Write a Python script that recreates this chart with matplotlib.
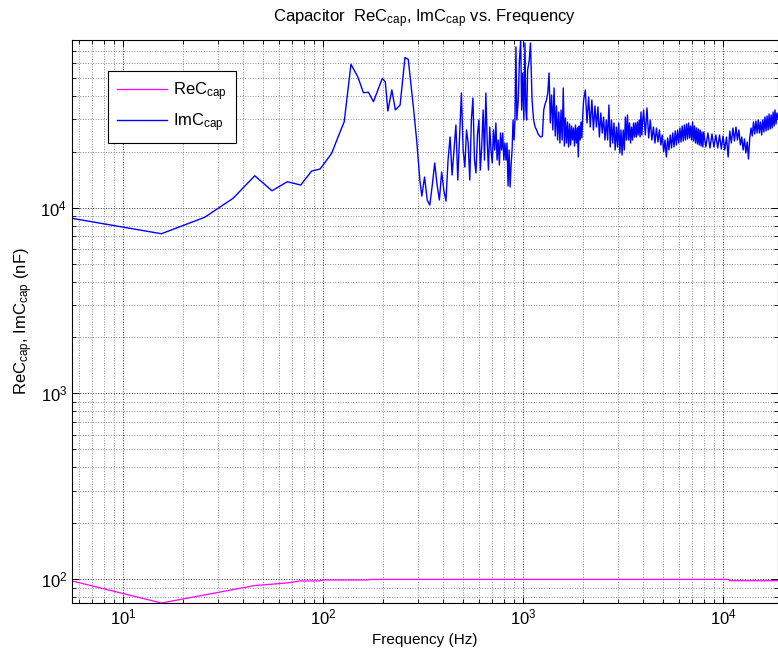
import matplotlib
matplotlib.use("Agg")
import matplotlib.pyplot as plt
from matplotlib.ticker import LogLocator, LogFormatterMathtext, NullFormatter

plt.rcParams['font.family'] = ['Liberation Sans', 'DejaVu Sans']
plt.rcParams['mathtext.fontset'] = 'custom'
plt.rcParams['mathtext.rm'] = 'Liberation Sans'
plt.rcParams['mathtext.it'] = 'Liberation Sans:italic'
plt.rcParams['mathtext.bf'] = 'Liberation Sans:bold'

# Real part of the capacitance (nF)
rec_freq = [5.56, 15.56, 45.6, 66, 77, 96, 100, 165, 175, 10700, 10800, 18840]
rec_vals = [97.9, 74.5, 92.5, 95.5, 97.9, 97.9, 99.1, 99.1, 99.8, 99.8, 98.2, 98.2]

# Imaginary part of the capacitance (nF), low frequencies
imc_freq_low = [5.56, 15.56, 25.6, 35.5, 45.6, 55.6, 66.3, 77.4, 87.7, 96.6,
                101.6, 110.5, 119.1, 127.7, 138.0, 149.2, 159.3, 168.8, 178.8, 198,
                205, 211, 221, 230, 243, 257, 267]
imc_vals_low = [8750, 7230, 8860, 11210, 14830, 12310, 13770, 13220, 15720, 16120,
                17300, 19580, 24060, 28970, 59020, 50600, 41500, 41700, 37120, 49610,
                47380, 33070, 42920, 33500, 35640, 64200, 62640]

# Imaginary part, 280 Hz - 1.1 kHz (resonance ringing)
imc_freq_mid = [283, 294, 305, 312, 322, 332, 342, 352, 362, 372,
                382, 392, 402, 412, 422, 432, 442, 452, 462, 472,
                482, 492, 502, 512, 522, 532, 542, 552, 562, 572,
                582, 592, 602, 612, 622, 632, 642, 652, 662, 672,
                682, 692, 702, 712, 722, 732, 742, 752, 762, 772,
                782, 792, 802, 812, 822, 832, 842, 852, 862, 872,
                882, 892, 902, 912, 922, 932, 947, 960, 974, 985,
                997, 1010, 1023, 1033, 1043, 1055, 1075]
imc_vals_mid = [34880, 23090, 14060, 11530, 14600, 10980, 10310, 13220, 17370, 13220,
                10980, 15530, 12420, 10840, 18020, 23970, 14960, 20400, 27810, 14060,
                24570, 41350, 20400, 16520, 26150, 22250, 14060, 29600, 38880, 18020,
                15340, 24570, 29600, 15920, 21440, 33500, 18020, 41350, 23090, 15920,
                27130, 20400, 17370, 26150, 20400, 28520, 18020, 23090, 16940, 25190,
                20400, 25190, 18020, 22250, 18020, 22250, 13060, 20400, 12900, 16940,
                20400, 29600, 23090, 29600, 73100, 29600, 37920, 62250, 79730, 33500,
                52990, 29600, 76820, 33500, 29600, 54990, 62250]

# Imaginary part, high frequencies (dense noisy band)
imc_freq_high = [
    1090, 1110, 1130, 1150, 1170, 1190, 1210, 1230, 1250, 1270, 1290, 1310, 1330, 1350,
    1370, 1390, 1410, 1430, 1450, 1470, 1490, 1510, 1530, 1550, 1570, 1590, 1610, 1630,
    1650, 1670, 1690, 1710, 1730, 1750, 1770, 1790, 1810, 1830, 1850, 1870, 1890, 1910,
    1930, 1950, 1970, 1990,
    2010, 2050, 2090, 2130, 2170, 2210, 2250, 2290, 2330, 2370, 2410, 2450, 2490, 2530,
    2570, 2610, 2650, 2690, 2730, 2770, 2810, 2850, 2890, 2930, 2970, 3010, 3050, 3090,
    3130, 3170, 3210, 3250, 3290, 3330, 3370, 3410, 3450, 3490, 3530, 3570, 3610, 3650,
    3690, 3730, 3770, 3810, 3850, 3890, 3930, 3970,
    4010, 4090, 4170, 4250, 4330, 4410, 4490, 4570, 4650, 4730, 4810, 4890, 4970, 5050,
    5130, 5210, 5290, 5370, 5450, 5530, 5610, 5690, 5770, 5850, 5930, 6010, 6090, 6170,
    6250, 6330, 6410, 6490, 6570, 6650, 6730, 6810, 6890, 6970, 7050, 7130, 7210, 7290,
    7370, 7450, 7530, 7610, 7690, 7770, 7850, 7930,
    8010, 8210, 8410, 8610, 8810, 9010, 9210, 9410, 9610, 9810, 10010, 10210, 10410, 10610,
    10810, 11010, 11210, 11410, 11610, 11810, 12010, 12210, 12410, 12610, 12810, 13010,
    13210, 13410, 13610, 13810, 14010, 14210, 14410, 14610, 14810, 15010, 15210, 15410,
    15610, 15810, 16010, 16210, 16410, 16610, 16810, 17010, 17210, 17410, 17610, 17810,
    18010, 18210, 18410, 18610, 18840]
imc_vals_high = [
    76820, 37920, 29600, 27130, 26150, 24880, 24270, 23970, 24270, 33500, 36090, 37920, 41350, 52990,
    28520, 40350, 26150, 44000, 24270, 35200, 23090, 32680, 22250, 33500, 23090, 44000, 21440, 30330,
    22250, 28870, 21180, 28160, 21710, 27470, 23090, 26800, 21440, 27810, 22250, 26800, 18700, 27470,
    23090, 28870, 23680, 31480,
    37920, 42920, 28520, 39360, 27130, 37920, 26150, 35200, 27130, 34770, 23970, 32270, 25190, 30710,
    23090, 29600, 23090, 35640, 21180, 29600, 22250, 28520, 20400, 27130, 21180, 28520, 19650, 26150,
    19170, 26150, 20400, 30710, 23090, 31480, 23090, 28520, 22250, 27130, 23090, 28520, 23970, 28520,
    23970, 28870, 24570, 29600, 23970, 32680, 24570, 29600,
    33500, 24570, 34340, 23680, 29600, 23090, 27130, 22250, 26800, 22530, 26150, 21710, 24570, 19900,
    23090, 18700, 23680, 20400, 24570, 20910, 25190, 21180, 25820, 21710, 26150, 22250, 26800, 22530,
    27470, 22810, 27810, 23090, 28160, 23380, 28520, 23680, 27470, 23090, 28870, 22810, 27470, 22250,
    26800, 21980, 26470, 21710, 26150, 21440, 25500, 21180,
    25500, 21180, 25190, 20910, 24880, 21180, 24570, 20910, 24570, 20660, 24270, 20400, 23970, 18700,
    25820, 22250, 26800, 22810, 27130, 23090, 26150, 21710, 23970, 20400, 23380, 19650,
    22530, 18240, 23680, 26800, 24270, 28870, 24880, 29230, 25190, 29600, 25190, 28870,
    24570, 29600, 25500, 30710, 25820, 31100, 26150, 31880, 26470, 31480, 26800, 32680,
    27470, 33500, 28160, 32270, 30330]

imc_freq = imc_freq_low + imc_freq_mid + imc_freq_high
imc_vals = imc_vals_low + imc_vals_mid + imc_vals_high

fig = plt.figure(figsize=(7.78, 6.56), dpi=100)
ax = fig.add_axes([72 / 778, 53 / 656, 706 / 778, 563 / 656])

ax.loglog(rec_freq, rec_vals, color='#ff00ff', linewidth=0.9, label=r'ReC$_{\mathrm{cap}}$')
ax.loglog(imc_freq, imc_vals, color='#0000ff', linewidth=1.0, label=r'ImC$_{\mathrm{cap}}$')

# tight axes, like MATLAB "axis tight"
ax.set_xlim(min(imc_freq), max(imc_freq))
ax.set_ylim(min(rec_vals), max(imc_vals))

ax.xaxis.set_major_locator(LogLocator(base=10))
ax.xaxis.set_major_formatter(LogFormatterMathtext())
ax.xaxis.set_minor_locator(LogLocator(base=10, subs=range(2, 10)))
ax.xaxis.set_minor_formatter(NullFormatter())
ax.yaxis.set_major_locator(LogLocator(base=10))
ax.yaxis.set_major_formatter(LogFormatterMathtext())
ax.yaxis.set_minor_locator(LogLocator(base=10, subs=range(2, 10)))
ax.yaxis.set_minor_formatter(NullFormatter())

ax.grid(True, which='major', linestyle=':', color='0.2', linewidth=0.7)
ax.grid(True, which='minor', linestyle=':', color='0.55', linewidth=0.7)
ax.tick_params(which='both', direction='in', top=True, right=True, labelsize=12)
ax.tick_params(which='major', length=5, width=0.7)
ax.tick_params(which='minor', length=3, width=0.6)
for s in ax.spines.values():
    s.set_linewidth(0.8)

ax.set_xlabel("Frequency (Hz)", fontsize=11, labelpad=4)
ax.set_ylabel(r"ReC$_{\mathrm{cap}}$, ImC$_{\mathrm{cap}}$ (nF)", fontsize=12, labelpad=4)
ax.set_title(r"Capacitor  ReC$_{\mathrm{cap}}$, ImC$_{\mathrm{cap}}$ vs. Frequency",
             fontsize=12, pad=13)

leg = ax.legend(loc='upper left', bbox_to_anchor=(0.051, 0.945), borderaxespad=0,
                fontsize=12, fancybox=False, framealpha=1, edgecolor='black',
                handlelength=3.0, handletextpad=0.35, borderpad=0.55, labelspacing=0.5)
leg.get_frame().set_linewidth(0.8)

fig.savefig("out.png", dpi=100)
